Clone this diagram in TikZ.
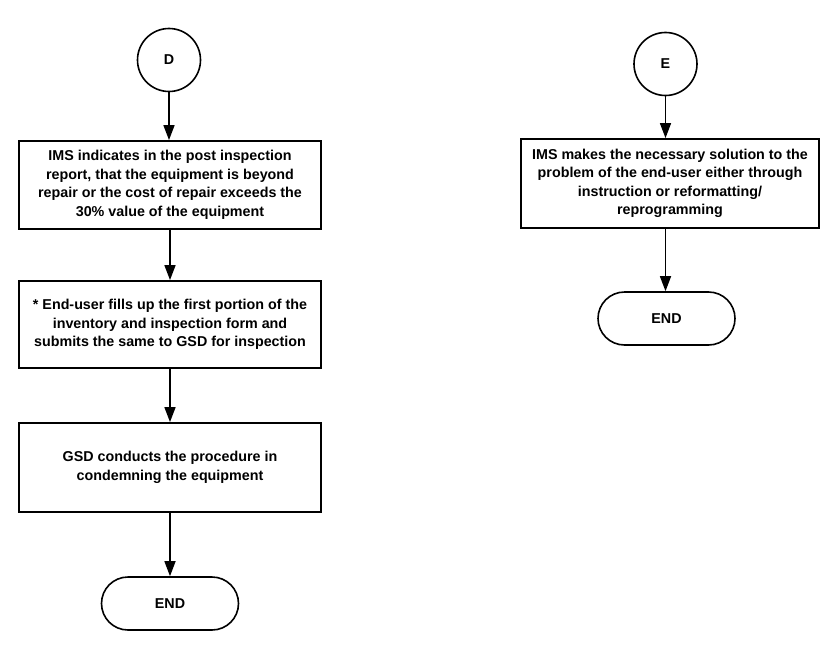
\documentclass[tikz,border=0pt]{standalone}
\usepackage{fontspec}
\setmainfont{Liberation Sans}
\usetikzlibrary{arrows.meta}
\begin{document}
\begin{tikzpicture}[x=1pt,y=-1pt,
  every node/.style={font=\fontsize{14.3}{18.5}\selectfont\bfseries},
  procbox/.style={draw, line width=1.8pt, minimum width=302pt, minimum height=88pt, inner sep=0pt, align=center},
  conn/.style={draw, circle, line width=1.6pt, minimum size=63pt, inner sep=0pt},
  term/.style={draw, line width=1.6pt, rounded corners=26.5pt, minimum width=137pt, minimum height=53pt, inner sep=0pt},
  flow/.style={line width=1.5pt, -{Triangle[length=15pt,width=11pt]}}]
\useasboundingbox (0,0) rectangle (840,669);
% left column
\node[conn] (d) at (169,60) {D};
\node[procbox] (b1) at (170,185) {IMS indicates in the post inspection\\report, that the equipment is beyond\\repair or the cost of repair exceeds the\\30\% value of the equipment};
\node[procbox, minimum height=87pt] (b2) at (170,324.5) {* End-user fills up the first portion of the\\inventory and inspection form and\\submits the same to GSD for inspection};
\node[procbox, minimum height=89pt] (b3) at (170,467.5) {GSD conducts the procedure in\\condemning the equipment};
\node[term] (end1) at (170,603.5) {END};
% right column
\node[conn] (e) at (665.5,64) {E};
\node[procbox, minimum width=298pt, minimum height=89pt] (b4) at (670,183.5) {IMS makes the necessary solution to the\\problem of the end-user either through\\instruction or reformatting/\\reprogramming};
\node[term] (end2) at (666.5,318.5) {END};
% connectors
\draw[flow] (d.south) -- (d.south |- b1.north);
\draw[flow] (b1.south) -- (b2.north);
\draw[flow] (b2.south) -- (b3.north);
\draw[flow] (b3.south) -- (end1.north);
\draw[flow] (e.south) -- (e.south |- b4.north);
\draw[flow] (b4.south -| e.south) -- (e.south |- end2.north);
\end{tikzpicture}
\end{document}
